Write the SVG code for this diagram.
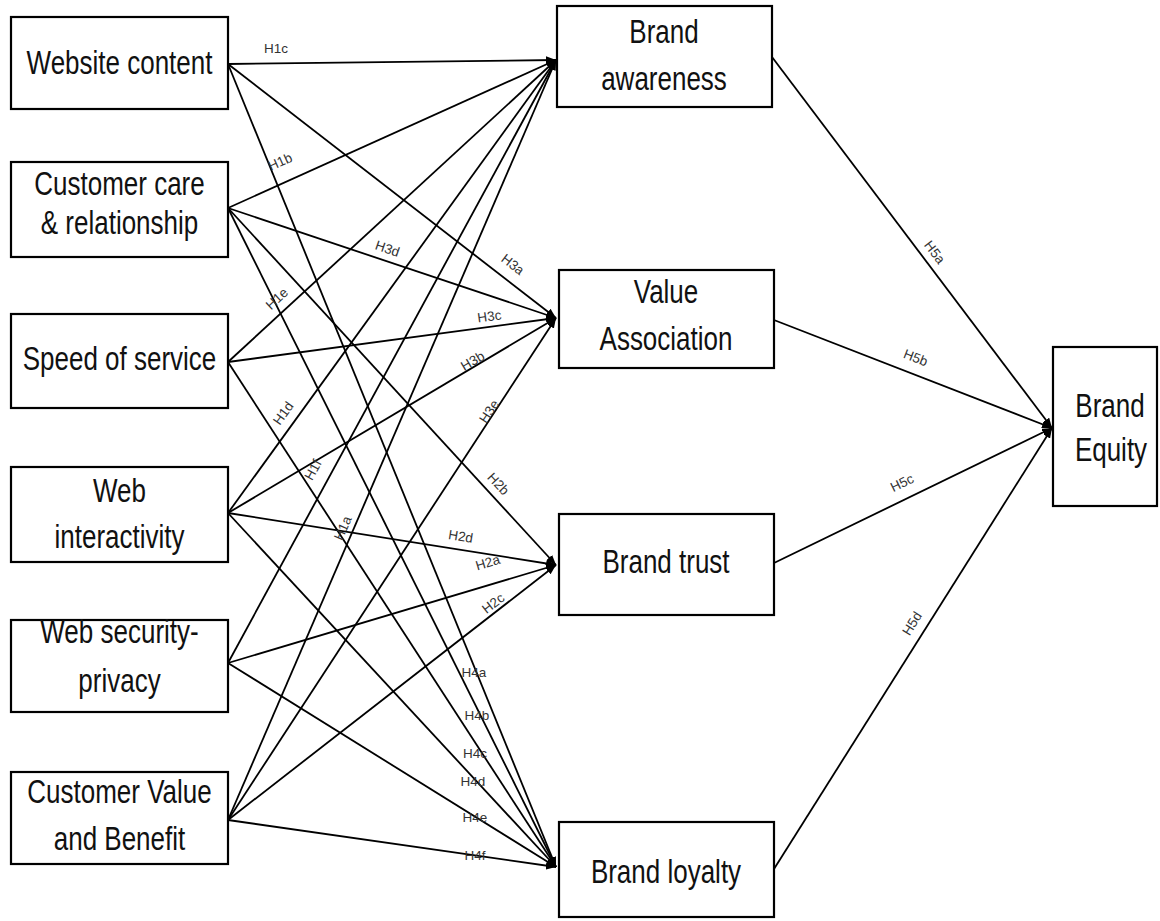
<svg xmlns="http://www.w3.org/2000/svg" width="1160" height="921" viewBox="0 0 1160 921">
  <defs>
    <marker id="arrow" viewBox="0 0 10 8" refX="10" refY="4" markerWidth="10" markerHeight="8" markerUnits="userSpaceOnUse" orient="auto">
      <path d="M0,0 L10,4 L0,8 z" fill="#000"/>
    </marker>
    <style>
      .box { fill: #fff; stroke: #000; stroke-width: 2.2; }
      .name { font-family: "Liberation Sans", Arial, sans-serif; font-size: 26px; fill: #111; text-anchor: middle; }
      .link { stroke: #000; stroke-width: 1.8; fill: none; marker-end: url(#arrow); }
      .hyp { font-family: "Liberation Sans", Arial, sans-serif; font-size: 13.5px; fill: #333; text-anchor: middle; }
    </style>
  </defs>
  <rect width="1160" height="921" fill="#fff"/>

  <!-- connectors -->
  <g id="connectors">
    <!-- to Brand awareness -->
    <line class="link" x1="228" y1="64" x2="556" y2="60"/>
    <line class="link" x1="228" y1="208" x2="556" y2="60"/>
    <line class="link" x1="228" y1="362" x2="556" y2="60"/>
    <line class="link" x1="228" y1="513" x2="556" y2="60"/>
    <line class="link" x1="228" y1="663" x2="556" y2="60"/>
    <line class="link" x1="228" y1="820" x2="556" y2="60"/>
    <!-- to Value Association -->
    <line class="link" x1="228" y1="64" x2="556" y2="318"/>
    <line class="link" x1="228" y1="208" x2="556" y2="318"/>
    <line class="link" x1="228" y1="362" x2="556" y2="318"/>
    <line class="link" x1="228" y1="513" x2="556" y2="318"/>
    <line class="link" x1="228" y1="820" x2="556" y2="318"/>
    <!-- to Brand trust -->
    <line class="link" x1="228" y1="208" x2="556" y2="565"/>
    <line class="link" x1="228" y1="513" x2="556" y2="565"/>
    <line class="link" x1="228" y1="663" x2="556" y2="565"/>
    <line class="link" x1="228" y1="820" x2="556" y2="565"/>
    <!-- to Brand loyalty -->
    <line class="link" x1="228" y1="64" x2="556" y2="867"/>
    <line class="link" x1="228" y1="208" x2="556" y2="867"/>
    <line class="link" x1="228" y1="362" x2="556" y2="867"/>
    <line class="link" x1="228" y1="513" x2="556" y2="867"/>
    <line class="link" x1="228" y1="663" x2="556" y2="867"/>
    <line class="link" x1="228" y1="820" x2="556" y2="867"/>
    <!-- to Brand Equity -->
    <line class="link" x1="772" y1="57" x2="1052" y2="428"/>
    <line class="link" x1="774" y1="320" x2="1052" y2="428"/>
    <line class="link" x1="774" y1="563" x2="1052" y2="428"/>
    <line class="link" x1="774" y1="869" x2="1052" y2="428"/>

    <!-- hypothesis labels -->
    <text class="hyp" x="276" y="53">H1c</text>
    <text class="hyp" transform="translate(282,166) rotate(-24)">H1b</text>
    <text class="hyp" transform="translate(280,302) rotate(-42.6)">H1e</text>
    <text class="hyp" transform="translate(287,416) rotate(-54)">H1d</text>
    <text class="hyp" transform="translate(317,472) rotate(-61.5)">H1f</text>
    <text class="hyp" transform="translate(347,530) rotate(-66.7)">H1a</text>
    <text class="hyp" transform="translate(386,253) rotate(19)">H3d</text>
    <text class="hyp" transform="translate(510,268) rotate(37.8)">H3a</text>
    <text class="hyp" transform="translate(490,321) rotate(-7.6)">H3c</text>
    <text class="hyp" transform="translate(475,365) rotate(-30.7)">H3b</text>
    <text class="hyp" transform="translate(493,414) rotate(-56.8)">H3e</text>
    <text class="hyp" transform="translate(495,487) rotate(47.4)">H2b</text>
    <text class="hyp" transform="translate(460,541) rotate(9)">H2d</text>
    <text class="hyp" transform="translate(489,567) rotate(-16.6)">H2a</text>
    <text class="hyp" transform="translate(496,607) rotate(-37.9)">H2c</text>
    <text class="hyp" x="474" y="677">H4a</text>
    <text class="hyp" x="477" y="720">H4b</text>
    <text class="hyp" x="475" y="758">H4c</text>
    <text class="hyp" x="473" y="786">H4d</text>
    <text class="hyp" x="475" y="822">H4e</text>
    <text class="hyp" x="475" y="860">H4f</text>
    <text class="hyp" transform="translate(931,255) rotate(53)">H5a</text>
    <text class="hyp" transform="translate(914,362) rotate(21.3)">H5b</text>
    <text class="hyp" transform="translate(904,487) rotate(-26)">H5c</text>
    <text class="hyp" transform="translate(916,626) rotate(-57.9)">H5d</text>
  </g>

  <!-- dimension nodes -->
  <g id="website-content">
    <rect class="box" x="11" y="17" width="217" height="92"/>
    <text class="name" transform="translate(119.5,74) scale(1,1.27)">Website content</text>
  </g>
  <g id="customer-care">
    <rect class="box" x="11" y="162" width="217" height="95"/>
    <text class="name" transform="translate(119.5,195) scale(1,1.27)">Customer care</text>
    <text class="name" transform="translate(119.5,234) scale(1,1.27)">&amp; relationship</text>
  </g>
  <g id="speed-of-service">
    <rect class="box" x="11" y="314" width="217" height="94"/>
    <text class="name" transform="translate(119.5,370) scale(1,1.27)">Speed of service</text>
  </g>
  <g id="web-interactivity">
    <rect class="box" x="11" y="467" width="217" height="95"/>
    <text class="name" transform="translate(119.5,502) scale(1,1.27)">Web</text>
    <text class="name" transform="translate(119.5,548) scale(1,1.27)">interactivity</text>
  </g>
  <g id="web-security">
    <rect class="box" x="11" y="620" width="217" height="92"/>
    <text class="name" transform="translate(119.5,643) scale(1,1.27)">Web security-</text>
    <text class="name" transform="translate(119.5,692) scale(1,1.27)">privacy</text>
  </g>
  <g id="customer-value">
    <rect class="box" x="11" y="772" width="217" height="92"/>
    <text class="name" transform="translate(119.5,803) scale(1,1.27)">Customer Value</text>
    <text class="name" transform="translate(119.5,850) scale(1,1.27)">and Benefit</text>
  </g>

  <!-- brand nodes -->
  <g id="brand-awareness">
    <rect class="box" x="557" y="6" width="215" height="101"/>
    <text class="name" transform="translate(664,43) scale(1,1.27)">Brand</text>
    <text class="name" transform="translate(664,90) scale(1,1.27)">awareness</text>
  </g>
  <g id="value-association">
    <rect class="box" x="559" y="270" width="215" height="98"/>
    <text class="name" transform="translate(666,303) scale(1,1.27)">Value</text>
    <text class="name" transform="translate(666,350) scale(1,1.27)">Association</text>
  </g>
  <g id="brand-trust">
    <rect class="box" x="559" y="514" width="215" height="101"/>
    <text class="name" transform="translate(666,573) scale(1,1.27)">Brand trust</text>
  </g>
  <g id="brand-loyalty">
    <rect class="box" x="559" y="822" width="215" height="95"/>
    <text class="name" transform="translate(666,883) scale(1,1.27)">Brand loyalty</text>
  </g>
  <g id="brand-equity">
    <rect class="box" x="1053" y="347" width="104" height="159"/>
    <text class="name" transform="translate(1110,417) scale(1,1.27)">Brand</text>
    <text class="name" transform="translate(1111,461) scale(1,1.27)">Equity</text>
  </g>
</svg>
